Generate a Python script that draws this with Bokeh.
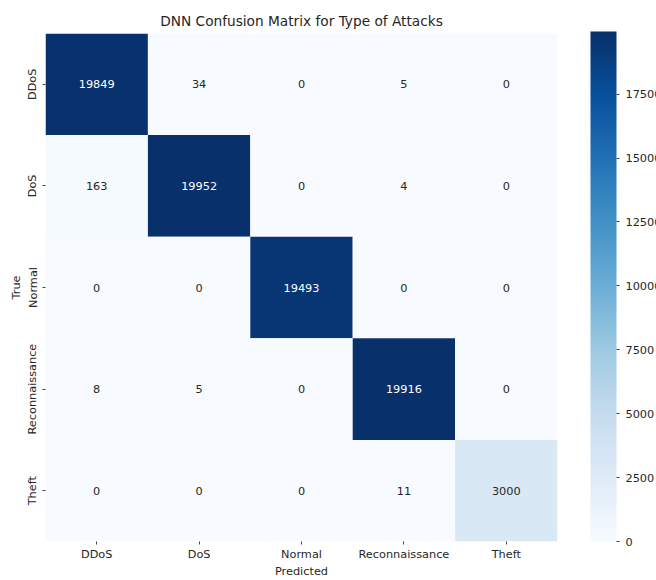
from bokeh.plotting import figure
from bokeh.models import ColumnDataSource, LinearColorMapper, ColorBar, FixedTicker
from bokeh.palettes import Blues256
from bokeh.embed import file_html
from bokeh.resources import INLINE
from bokeh.core.properties import value

classes = ["DDoS", "DoS", "Normal", "Reconnaissance", "Theft"]
row_ddos = [19849, 34, 0, 5, 0]
row_dos = [163, 19952, 0, 4, 0]
row_normal = [0, 0, 19493, 0, 0]
row_recon = [8, 5, 0, 19916, 0]
row_theft = [0, 0, 0, 11, 3000]
rows = [row_ddos, row_dos, row_normal, row_recon, row_theft]
cbar_ticks = [0, 2500, 5000, 7500, 10000, 12500, 15000, 17500]

true_lbl, pred_lbl, vals = [], [], []
for t, r in zip(classes, rows):
    for p_, v in zip(classes, r):
        true_lbl.append(t)
        pred_lbl.append(p_)
        vals.append(v)
vmax = max(vals)
txt_col = ["white" if v > vmax * 0.5 else "#262626" for v in vals]
src = ColumnDataSource(dict(t=true_lbl, p=pred_lbl, v=vals, s=[str(v) for v in vals], c=txt_col))

mapper = LinearColorMapper(palette=list(Blues256[::-1]), low=0, high=vmax)

FONT = "DejaVu Sans"
FS = "11.3px"
p = figure(width=656, height=580, x_range=classes, y_range=list(reversed(classes)),
           output_backend="svg", toolbar_location=None,
           min_border_left=45, min_border_top=33, min_border_bottom=37, min_border_right=99,
           title="DNN Confusion Matrix for Type of Attacks")
p.rect(x="p", y="t", width=1, height=1, source=src,
       fill_color={"field": "v", "transform": mapper}, line_color=None)
p.text(x="p", y="t", text="s", source=src, text_color="c", text_align="center",
       text_baseline="middle", text_font=value(FONT), text_font_size=FS)

p.title.align = "center"
p.title.text_font = FONT
p.title.text_font_size = "13.7px"
p.title.text_font_style = "normal"
p.title.text_color = "#262626"
p.title.offset = 0
p.outline_line_color = None
p.grid.grid_line_color = None
for ax in (p.xaxis[0], p.yaxis[0]):
    ax.axis_line_color = None
    ax.major_tick_line_color = "#444444"
    ax.major_tick_out = 3
    ax.major_tick_in = 0
    ax.minor_tick_line_color = None
    ax.major_label_text_font = FONT
    ax.major_label_text_font_size = FS
    ax.major_label_text_color = "#262626"
    ax.axis_label_text_font = FONT
    ax.axis_label_text_font_size = FS
    ax.axis_label_text_font_style = "normal"
    ax.axis_label_text_color = "#262626"
    ax.major_label_standoff = 3
    ax.axis_label_standoff = 1
p.xaxis.axis_label = "Predicted"
p.yaxis.axis_label = "True"
p.yaxis.major_label_orientation = "vertical"

cb = ColorBar(color_mapper=mapper, width=26, height=510, margin=0, padding=0,
              location=(545, 0), ticker=FixedTicker(ticks=cbar_ticks),
              major_tick_line_color="#444444", major_tick_out=3, major_tick_in=0,
              major_label_text_font=FONT, major_label_text_font_size=FS,
              major_label_text_color="#262626", bar_line_color=None,
              background_fill_alpha=0, border_line_color=None, label_standoff=6)
p.add_layout(cb, "center")

open("out.html", "w").write(file_html(p, INLINE))
